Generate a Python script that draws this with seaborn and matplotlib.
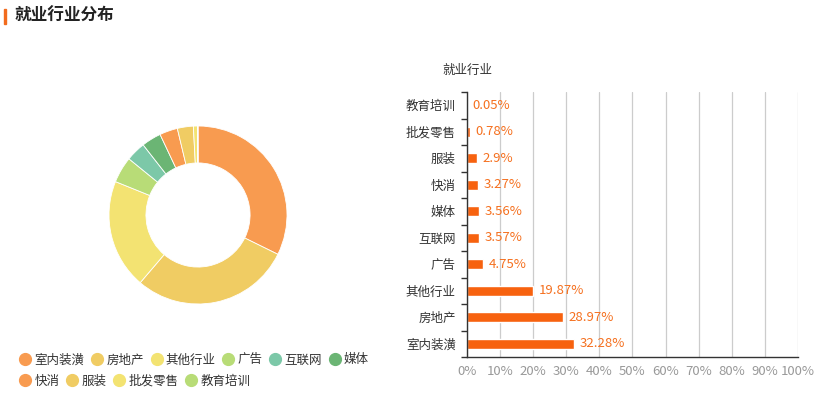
import matplotlib
matplotlib.use('Agg')
import matplotlib.pyplot as plt
from matplotlib.lines import Line2D
from matplotlib.patches import Rectangle
import seaborn as sns
import pandas as pd

# industry shares (%), in pie order
industries = ['室内装潢', '房地产', '其他行业', '广告', '互联网', '媒体', '快消', '服装', '批发零售', '教育培训']
shares = [32.28, 28.97, 19.87, 4.75, 3.57, 3.56, 3.27, 2.9, 0.78, 0.05]
pie_colors = ['#F89B50', '#F0CC63', '#F3E372', '#B8DC77', '#7CC8A8', '#6BB574',
              '#F89B50', '#F0CC63', '#F3E372', '#B8DC77']
x_ticks = [0, 10, 20, 30, 40, 50, 60, 70, 80, 90, 100]

sns.set_theme(style='white')
plt.rcParams['font.family'] = ['Noto Sans CJK SC', 'DejaVu Sans']

fig = plt.figure(figsize=(8.28, 3.95), dpi=100)
W, H = 828, 395

# title with orange marker
fig.text(15 / W, 1 - 16 / H, '就业行业分布', fontsize=12, fontweight='bold',
         color='#222222', va='center', ha='left')
fig.patches.append(Rectangle((4 / W, 1 - 24 / H), 2 / W, 15 / H,
                             transform=fig.transFigure, color='#F26B1D'))

# donut
cx, cy, r = 198, 215, 89
ax_pie = fig.add_axes([(cx - r) / W, 1 - (cy + r) / H, 2 * r / W, 2 * r / H])
ax_pie.pie(shares, colors=pie_colors, startangle=90, counterclock=False,
           radius=1, wedgeprops=dict(width=0.415, edgecolor='white', linewidth=0.6))
ax_pie.set_aspect('equal')
ax_pie.set_xlim(-1, 1)
ax_pie.set_ylim(-1, 1)

# legend, two rows
def add_legend_row(names, colors, y):
    handles = [Line2D([], [], marker='o', linestyle='', markersize=8.5,
                      markerfacecolor=c, markeredgecolor=c) for c in colors]
    leg = fig.legend(handles, names, loc='center left', bbox_to_anchor=(19 / W, 1 - y / H),
                     ncol=len(names), frameon=False, fontsize=9, handletextpad=0.25,
                     columnspacing=0.5, handlelength=1.0, borderaxespad=0, borderpad=0)
    for t in leg.get_texts():
        t.set_color('#333333')
    return leg

add_legend_row(industries[:6], pie_colors[:6], 360)
add_legend_row(industries[6:], pie_colors[6:], 381)

# horizontal bar chart
df = pd.DataFrame({'industry': industries[::-1], 'share': shares[::-1]})
ax_bar = fig.add_axes([467 / W, 1 - 357 / H, (798 - 467) / W, (357 - 92) / H])
sns.barplot(data=df, y='industry', x='share', orient='h', color='#F7620F',
            saturation=1, width=0.38, ax=ax_bar)
ax_bar.set_xlim(0, 100)
ax_bar.set_ylim(len(df) - 0.5, -0.5)
ax_bar.set_xticks(x_ticks)
ax_bar.set_xticklabels([f'{v}%' for v in x_ticks], color='#999999', fontsize=9.5)
ax_bar.xaxis.grid(True, color='#CCCCCC', linewidth=0.9)
ax_bar.set_axisbelow(True)
ax_bar.set_xlabel('')
ax_bar.set_ylabel('')
for lbl in ax_bar.get_yticklabels():
    lbl.set_color('#333333')
    lbl.set_fontsize(9)
ax_bar.tick_params(axis='y', which='major', length=0, pad=8)
ax_bar.set_yticks([i + 0.5 for i in range(-1, len(df))], minor=True)
ax_bar.tick_params(axis='y', which='minor', length=4, color='#333333', width=1, left=True)
ax_bar.tick_params(axis='x', length=0, pad=6)
for side in ['top', 'right']:
    ax_bar.spines[side].set_visible(False)
for side in ['left', 'bottom']:
    ax_bar.spines[side].set_color('#333333')
    ax_bar.spines[side].set_linewidth(1)
ax_bar.bar_label(ax_bar.containers[0], labels=[f'{v:g}%' for v in df['share']],
                 padding=4, color='#F5701F', fontsize=9.5)
fig.text(467 / W, 1 - 70 / H, '就业行业', fontsize=9, color='#333333', ha='center', va='center')

fig.savefig('out.png', dpi=100)
